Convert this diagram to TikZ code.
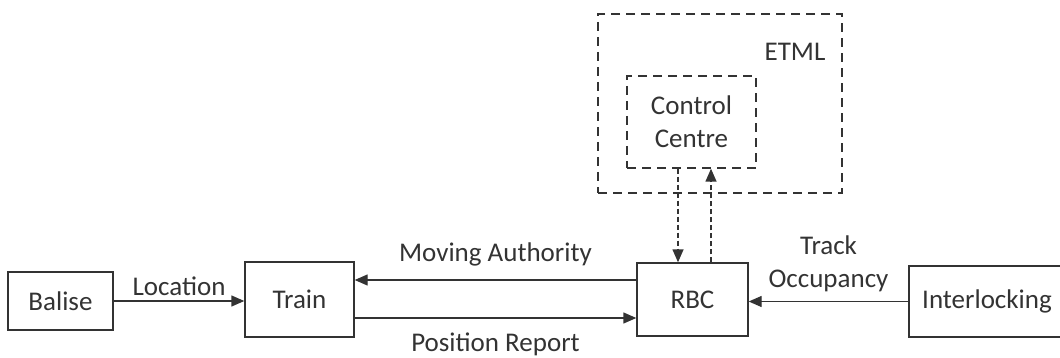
\documentclass[tikz,border=0pt]{standalone}
\usepackage{fontspec}
\setmainfont{Carlito}
\usetikzlibrary{arrows.meta}
\begin{document}
\begin{tikzpicture}
  [x=1pt,y=-1pt,line width=1.4pt,
   every node/.style={font=\fontsize{27}{33}\selectfont,text=black!80},
   block/.style={draw=black!80,rectangle,inner sep=0pt},
   dbox/.style={draw=black!80,rectangle,dash pattern=on 9pt off 6pt,inner sep=0pt},
   sig/.style={draw=black!80,-{Triangle[length=13pt,width=11pt]}},
   dsig/.style={sig,dash pattern=on 5pt off 3pt}]
  \useasboundingbox (0,0) rectangle (1060,358);
  \node (etml)[dbox,minimum width=244pt,minimum height=179pt] at (720,103.5) {};
  \node (etmllab) at (795,52) {ETML};
  \node (cc)[dbox,minimum width=129pt,minimum height=92pt,align=center] at (691.5,122) {Control\\Centre};
  \node (balise)[block,minimum width=105pt,minimum height=58pt] at (60.5,301) {Balise};
  \node (train)[block,minimum width=109pt,minimum height=75pt] at (299.5,299.5) {Train};
  \node (rbc)[block,minimum width=111pt,minimum height=73pt] at (692.5,299.5) {RBC};
  \node (ilk)[block,minimum width=166pt,minimum height=71pt] at (992,301.5) {\hspace*{-10pt}Interlocking};

  \draw[sig] (balise.east) -- (train.west |- balise.east)
    node[midway,above=1pt] (loclab) {Location};
  \draw[sig] ([yshift=19.5pt]rbc.west) -- ([yshift=19.5pt]train.east)
    node[midway,above=10pt] (malab) {Moving Authority};
  \draw[sig] ([yshift=-18.5pt]train.east) -- ([yshift=-18.5pt]rbc.west)
    node[midway,below=11pt] (prlab) {Position Report};
  \draw[sig] (ilk.west) -- (rbc.east |- ilk.west)
    node[midway,above=6pt,align=center] (tolab) {Track\\Occupancy};
  \draw[dsig] ([xshift=-13.5pt]cc.south) -- ([xshift=-14.5pt]rbc.north);
  \draw[dsig] ([xshift=18.5pt]rbc.north) -- ([xshift=19.5pt]cc.south);
\end{tikzpicture}
\end{document}
